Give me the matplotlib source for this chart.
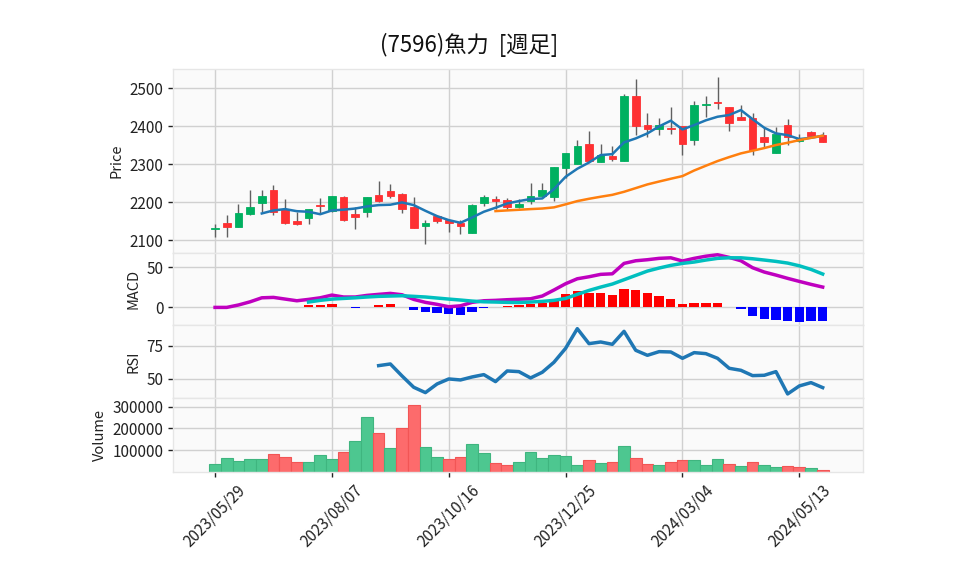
import matplotlib
matplotlib.use("Agg")
import matplotlib.pyplot as plt
import numpy as np

plt.rcParams['font.family'] = ['Noto Sans CJK JP', 'DejaVu Sans']

# ---------------- data ----------------
opens = [2131, 2145, 2136, 2170, 2199, 2234, 2182, 2151, 2160, 2193,
         2178, 2213, 2169, 2175, 2219, 2231, 2222, 2189, 2139, 2164,
         2153, 2146, 2120, 2199, 2209, 2206, 2189, 2204, 2218, 2215,
         2291, 2301, 2354, 2307, 2322, 2310, 2480, 2405, 2392, 2396,
         2400, 2365, 2456, 2465, 2450, 2425, 2421, 2372, 2329, 2403,
         2362, 2384, 2377]
highs = [2144, 2168, 2195, 2234, 2232, 2247, 2210, 2175, 2184, 2211,
         2218, 2218, 2189, 2215, 2256, 2248, 2224, 2215, 2153, 2164,
         2155, 2155, 2195, 2219, 2217, 2212, 2208, 2252, 2250, 2293,
         2329, 2364, 2388, 2355, 2348, 2484, 2526, 2436, 2421, 2450,
         2400, 2468, 2481, 2529, 2450, 2456, 2436, 2398, 2398, 2419,
         2381, 2389, 2386]
lows = [2109, 2110, 2136, 2166, 2175, 2166, 2144, 2141, 2142, 2173,
        2175, 2152, 2129, 2162, 2202, 2211, 2171, 2132, 2090, 2145,
        2123, 2117, 2120, 2190, 2182, 2182, 2186, 2197, 2218, 2204,
        2263, 2301, 2310, 2307, 2308, 2310, 2377, 2371, 2377, 2379,
        2325, 2351, 2425, 2447, 2388, 2416, 2326, 2346, 2329, 2350,
        2358, 2374, 2360]
closes = [2134, 2136, 2172, 2189, 2218, 2174, 2147, 2144, 2182, 2190,
          2216, 2154, 2161, 2213, 2204, 2218, 2182, 2134, 2146, 2152,
          2147, 2139, 2193, 2214, 2204, 2189, 2195, 2216, 2232, 2293,
          2329, 2348, 2310, 2326, 2315, 2480, 2402, 2392, 2404, 2392,
          2354, 2455, 2460, 2461, 2410, 2418, 2339, 2360, 2379, 2372,
          2370, 2374, 2360]
volumes = [35000, 62600, 48900, 58000, 58000, 80900, 67200, 44300, 44300, 76300,
           58000, 90000, 140500, 250400, 177100, 108400, 200000, 305300, 113000, 68700,
           58000, 68700, 126700, 87000, 39700, 30500, 45800, 91600, 64100, 77900,
           73300, 32000, 55000, 41200, 45800, 119100, 64100, 36600, 32000, 45800,
           55000, 55000, 32000, 59500, 36600, 27500, 45800, 32000, 22900, 27500,
           22900, 18300, 9200]

# 5-week moving average (starts at week index 4)
ma5 = [2171, 2179, 2182.5, 2177, 2175.5, 2169, 2179, 2181, 2184, 2189.5,
       2193, 2194, 2200, 2193, 2178, 2164, 2153.5, 2146.5, 2160.5, 2175.5,
       2186, 2197.4, 2203.5, 2209, 2210.5, 2235, 2267.5, 2288.6, 2305, 2324.6,
       2327, 2358, 2368.4, 2381.6, 2400, 2415, 2392, 2403.5, 2416, 2425.4,
       2430, 2443, 2419, 2396.5, 2381.6, 2377, 2366.7, 2370, 2375.4]
# 25-week moving average (starts at week index 24)
ma25 = [2177.2, 2179, 2180.7, 2182.5, 2184, 2187, 2195, 2203.5, 2209.6, 2215,
        2220, 2228, 2237.7, 2247.4, 2255, 2262.3, 2269.3, 2284, 2296.5, 2308.8,
        2319.3, 2329, 2336, 2343, 2351, 2357, 2364, 2370, 2375.4]

macd = [0, 0, 3, 7, 12, 12.5, 10.4, 8.3, 10, 12,
        15.4, 13, 13, 15, 16.3, 17.5, 15.8, 10, 6.3, 3.8,
        0.8, 2, 6.3, 8.3, 8.8, 9.6, 10.2, 10.8, 14.2, 21.7,
        29.6, 35.8, 38.3, 41.3, 42, 55, 58.3, 59.6, 61.3, 62,
        58, 61.3, 64, 65.8, 62.5, 58.3, 49.6, 44.2, 40.4, 36.3,
        32.5, 28.8, 25.4]
# signal line (starts at week index 8)
signal = [6.7, 8.8, 10.4, 11.2, 12, 13, 13.8, 14.2, 14.6, 13.8,
          13, 11.7, 10.4, 9.2, 7.9, 7, 6.7, 6.3, 6.1, 6.7,
          7.5, 8.8, 11.2, 16.3, 21.2, 25.4, 29.2, 34.6, 40, 45.4,
          49.2, 52.5, 55, 56.7, 59.2, 61.3, 62, 62, 60.8, 59.2,
          57.5, 55.4, 52, 47.5, 41.7]
# histogram (starts at week index 8)
hist = [2.5, 2.5, 4, 0.8, -0.5, 0.8, 2.5, 4, 1, -3.3,
        -5.8, -6.7, -8.3, -9.6, -5.8, -0.8, 0.8, 2, 2.5, 3.8,
        5.8, 11, 16.7, 20.4, 18.3, 18.3, 15.4, 23, 21.7, 18.3,
        14.2, 10.4, 4.6, 5.8, 5.8, 5.8, 0.3, -2, -10.4, -14.6,
        -15.8, -17, -18.3, -17, -17]
# RSI (starts at week index 14)
rsi = [60, 61.25, 52.25, 43.75, 39.75, 46.25, 50, 49.25, 51.5, 53.25,
       48, 56, 55.5, 50.75, 55, 62.5, 73, 87.75, 76.5, 77.75,
       76, 85.75, 71.5, 67.75, 70.5, 70.25, 65.5, 69.75, 69, 65.5,
       58, 56.5, 52.5, 52.75, 55.5, 38.75, 44.75, 47.25, 43.5]

tick_pos = [0, 10, 20, 30, 40, 50]
tick_labels = ['2023/05/29', '2023/08/07', '2023/10/16', '2023/12/25',
               '2024/03/04', '2024/05/13']
title = '(7596)魚力  [週足]'

# ---------------- style ----------------
UP = '#00b060'
DOWN = '#fe3032'
VUP = '#4dc790'
VDOWN = '#fd6b6c'
WICK = '#606060'
FACE = '#fafafa'
GRID = '#d0d0d0'
TXT = '#222222'

n = len(closes)
x = np.arange(n)

fig = plt.figure(figsize=(9.58, 5.75), dpi=100)
fig.patch.set_facecolor('white')

L = 173 / 958
W = (863 - 173) / 958
def pos(top, bot):
    return [L, 1 - bot / 575, W, (bot - top) / 575]

ax_p = fig.add_axes(pos(69, 253))
ax_m = fig.add_axes(pos(253, 325), sharex=ax_p)
ax_r = fig.add_axes(pos(325, 398), sharex=ax_p)
ax_v = fig.add_axes(pos(398, 472), sharex=ax_p)

for ax in (ax_p, ax_m, ax_r, ax_v):
    ax.set_facecolor(FACE)
    ax.grid(True, color=GRID, linewidth=1.0)
    ax.set_axisbelow(True)
    for s in ax.spines.values():
        s.set_color('#e6e6e6')
        s.set_linewidth(1.0)
    ax.tick_params(axis='both', labelsize=11, length=3.5, width=1,
                   color=TXT, labelcolor=TXT)

# price candles
o = np.array(opens, float); c = np.array(closes, float)
h = np.array(highs, float); l = np.array(lows, float)
up = c >= o
body_bot = np.minimum(o, c)
body_h = np.maximum(np.abs(c - o), 1.0)
cols = [UP if u else DOWN for u in up]
ax_p.vlines(x, l, h, color=WICK, linewidth=1.0, zorder=2)
ax_p.bar(x, body_h, bottom=body_bot, width=0.65, color=cols,
         edgecolor=cols, linewidth=0.6, zorder=3)
ax_p.plot(x[4:], ma5, color='#1f77b4', linewidth=1.8, zorder=4)
ax_p.plot(x[24:], ma25, color='#ff7f0e', linewidth=1.8, zorder=4)
ax_p.set_ylim(2067, 2551)
ax_p.set_yticks([2100, 2200, 2300, 2400, 2500])
ax_p.set_ylabel('Price', fontsize=10.5, color=TXT)

# MACD
hcols = ['#ff0000' if v >= 0 else '#0000ff' for v in hist]
ax_m.bar(x[8:], hist, width=0.8, color=hcols, zorder=2)
ax_m.plot(x, macd, color='#bf00bf', linewidth=2.5, zorder=3)
ax_m.plot(x[8:], signal, color='#00bfbf', linewidth=2.5, zorder=3)
ax_m.set_ylim(-22, 68)
ax_m.set_yticks([0, 50])
ax_m.set_ylabel('MACD', fontsize=10.5, color=TXT)

# RSI
ax_r.plot(x[14:], rsi, color='#1f77b4', linewidth=2.5)
ax_r.set_ylim(35.7, 90.5)
ax_r.set_yticks([50, 75])
ax_r.set_ylabel('RSI', fontsize=10.5, color=TXT)

# Volume
vcols = []
vedge = []
for i in range(n):
    if i == 0 or closes[i] >= closes[i - 1]:
        vcols.append(VUP); vedge.append('#3fb57f')
    else:
        vcols.append(VDOWN); vedge.append('#f25555')
ax_v.bar(x, volumes, width=1.0, color=vcols, edgecolor=vedge, linewidth=0.8, zorder=2)
ax_v.set_ylim(0, 339000)
ax_v.set_yticks([100000, 200000, 300000])
ax_v.set_yticklabels(['100000', '200000', '300000'])
ax_v.set_ylabel('Volume', fontsize=10.5, color=TXT)

ax_p.set_xlim(-3.6, 55.45)
ax_v.set_xticks(tick_pos)
ax_v.set_xticklabels(tick_labels, rotation=45, ha='center', fontsize=11)
for ax in (ax_p, ax_m, ax_r):
    plt.setp(ax.get_xticklabels(), visible=False)
    ax.tick_params(axis='x', length=0)

fig.text(0.49, 1 - 45 / 575, title, ha='center', va='center', fontsize=16, color='#111111')

fig.savefig('out.png', dpi=100)
